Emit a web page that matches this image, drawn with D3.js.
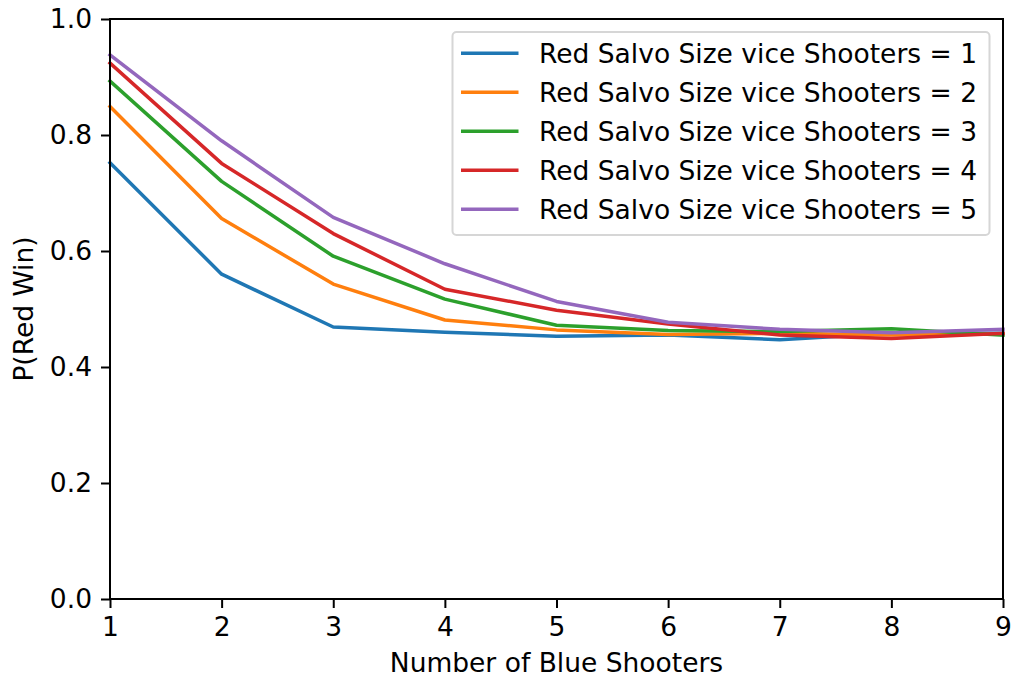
<!DOCTYPE html>
<html>
<head>
<meta charset="utf-8">
<script src="https://cdn.jsdelivr.net/npm/d3@7"></script>
<style>
  html, body { margin: 0; padding: 0; background: #fff; }
  svg { display: block; font-family: "DejaVu Sans", sans-serif; }
</style>
</head>
<body>
<svg id="chart" width="1013" height="679"></svg>
<script>
// Number of blue shooters (x axis)
const blueShooters = [1, 2, 3, 4, 5, 6, 7, 8, 9];

// P(Red Win) for each red salvo size
const salvo1 = [0.752, 0.560, 0.469, 0.460, 0.453, 0.455, 0.447, 0.458, 0.458];
const salvo2 = [0.849, 0.656, 0.543, 0.481, 0.464, 0.456, 0.458, 0.455, 0.457];
const salvo3 = [0.893, 0.720, 0.591, 0.517, 0.472, 0.463, 0.461, 0.466, 0.455];
const salvo4 = [0.924, 0.751, 0.630, 0.534, 0.498, 0.474, 0.455, 0.449, 0.458];
const salvo5 = [0.938, 0.790, 0.658, 0.578, 0.513, 0.477, 0.465, 0.459, 0.465];

const seriesNames = [
  "Red Salvo Size vice Shooters = 1",
  "Red Salvo Size vice Shooters = 2",
  "Red Salvo Size vice Shooters = 3",
  "Red Salvo Size vice Shooters = 4",
  "Red Salvo Size vice Shooters = 5"
];
const seriesValues = [salvo1, salvo2, salvo3, salvo4, salvo5];
const colors = ["#1f77b4", "#ff7f0e", "#2ca02c", "#d62728", "#9467bd"];

const xTicks = [1, 2, 3, 4, 5, 6, 7, 8, 9];
const yTicks = [0.0, 0.2, 0.4, 0.6, 0.8, 1.0];

const FONT = "26.5px";
const svg = d3.select("#chart");
const plot = { left: 110, right: 1003, top: 19, bottom: 599 };

const x = d3.scaleLinear().domain([1, 9]).range([plot.left, plot.right]);
const y = d3.scaleLinear().domain([0, 1]).range([plot.bottom, plot.top]);

// Lines
const line = d3.line()
  .x((d, i) => x(blueShooters[i]))
  .y(d => y(d));

const g = svg.append("g");
seriesValues.forEach((vals, k) => {
  g.append("path")
    .datum(vals)
    .attr("fill", "none")
    .attr("stroke", colors[k])
    .attr("stroke-width", 3.5)
    .attr("stroke-linejoin", "round")
    .attr("stroke-linecap", "square")
    .attr("d", line);
});

// Axes
const xAxis = d3.axisBottom(x).tickValues(xTicks).tickFormat(d3.format("d"))
  .tickSize(9).tickPadding(9);
const yAxis = d3.axisLeft(y).tickValues(yTicks).tickFormat(d3.format(".1f"))
  .tickSize(9).tickPadding(9);

const gx = svg.append("g").attr("transform", `translate(0,${plot.bottom})`).call(xAxis);
const gy = svg.append("g").attr("transform", `translate(${plot.left},0)`).call(yAxis);
[gx, gy].forEach(a => {
  a.select(".domain").remove();
  a.selectAll(".tick line").attr("stroke", "#000").attr("stroke-width", 2);
  a.selectAll(".tick text").attr("fill", "#000").style("font-size", FONT)
    .style("font-family", "DejaVu Sans, sans-serif");
});

// Frame
svg.append("rect")
  .attr("x", plot.left).attr("y", plot.top)
  .attr("width", plot.right - plot.left).attr("height", plot.bottom - plot.top)
  .attr("fill", "none").attr("stroke", "#000").attr("stroke-width", 2);

// Axis titles
svg.append("text")
  .attr("x", (plot.left + plot.right) / 2).attr("y", 672)
  .attr("text-anchor", "middle").style("font-size", FONT)
  .text("Number of Blue Shooters");
svg.append("text")
  .attr("transform", `translate(33,${(plot.top + plot.bottom) / 2}) rotate(-90)`)
  .attr("text-anchor", "middle").style("font-size", FONT)
  .text("P(Red Win)");

// Legend
const legend = svg.append("g");
legend.append("rect")
  .attr("x", 452.5).attr("y", 32).attr("width", 537).attr("height", 203)
  .attr("rx", 4).attr("fill", "#fff").attr("fill-opacity", 0.8)
  .attr("stroke", "#d6d6d6").attr("stroke-width", 2);
seriesNames.forEach((name, k) => {
  const cy = 53.3 + k * 39;
  legend.append("line")
    .attr("x1", 461).attr("x2", 518.5).attr("y1", cy).attr("y2", cy)
    .attr("stroke", colors[k]).attr("stroke-width", 3.5);
  legend.append("text")
    .attr("x", 539).attr("y", cy).attr("dy", "0.36em")
    .style("font-size", FONT).text(name);
});
</script>
</body>
</html>
